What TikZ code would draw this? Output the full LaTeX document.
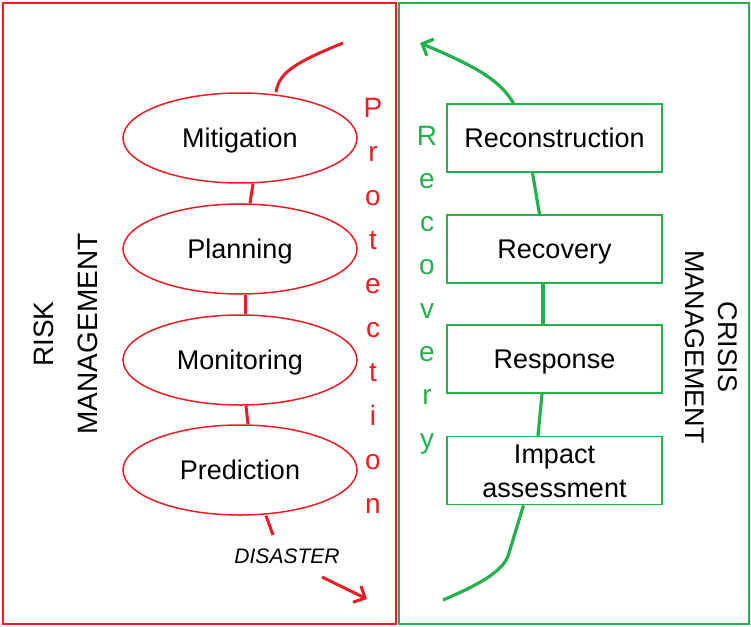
\documentclass[tikz,border=0pt]{standalone}
\usepackage{fontspec}
\setmainfont{Liberation Sans}
\usepackage{tikz}
\usetikzlibrary{arrows.meta,shapes.geometric}
\definecolor{riskred}{RGB}{237,28,36}
\definecolor{crisisgreen}{RGB}{34,177,76}

\begin{document}
\begin{tikzpicture}[x=1pt,y=-1pt,
  phase/.style={ellipse,draw=riskred,line width=1.5pt,minimum width=234pt,minimum height=90pt,inner sep=0pt,text height=19pt,text depth=0pt,font=\fontsize{27}{30}\selectfont},
  stage/.style={rectangle,draw=crisisgreen,line width=1.5pt,minimum width=215pt,minimum height=68pt,inner sep=0pt,align=center,text height=19pt,text depth=0pt,font=\fontsize{27}{34}\selectfont},
  redlink/.style={riskred,line width=3pt},
  greenlink/.style={crisisgreen,line width=3.2pt},
  letter/.style={anchor=base,font=\fontsize{28}{30}\selectfont},
  barb/.style={-{Straight Barb[length=9pt,width=18pt]}}]
  \useasboundingbox (0,0) rectangle (751,626);
  \draw[riskred,line width=1.5pt] (3,3) rectangle (396,624);
  \draw[crisisgreen,line width=1.5pt] (399,3) rectangle (749,624);

  \node[phase] (mit) at (240,138) {Mitigation};
  \node[phase] (pla) at (240,249) {Planning};
  \node[phase] (mon) at (240,360) {Monitoring};
  \node[phase] (pre) at (240,470) {Prediction};
  \coordinate (protEnd) at (343,43);
  \coordinate (preStub) at (273,535);
  \coordinate (disStart) at (322,577);
  \coordinate (disEnd) at (367,599);
  \draw[redlink] ([xshift=36pt]mit.north) .. controls (279,74) and (291,64) .. (protEnd);
  \draw[redlink] ([xshift=13pt]mit.south) -- ([xshift=10pt]pla.north);
  \draw[redlink] ([xshift=5pt]pla.south) -- ([xshift=5pt]mon.north);
  \draw[redlink] ([xshift=6pt]mon.south) -- ([xshift=8pt]pre.north);
  \draw[redlink] ([xshift=26pt]pre.south) -- (preStub);
  \node[font=\fontsize{21}{24}\selectfont\itshape] (disaster) at (287,556) {DISASTER};
  \draw[redlink,barb] (disStart) -- (disEnd);
  \foreach \ch [count=\i from 0] in {P,r,o,t,e,c,t,i,o,n}
    \node[letter,riskred] (prot\i) at (373,117+44*\i) {\ch};
  \node[rotate=90,align=center,font=\fontsize{28}{44}\selectfont] (risk) at (66,334) {RISK\\MANAGEMENT};

  \node[stage] (rec) at (554.5,138) {Reconstruction};
  \node[stage] (recv) at (554.5,249) {Recovery};
  \node[stage] (resp) at (554.5,359) {Response};
  \node[stage,text height=53pt] (imp) at (554.5,470.5) {Impact\\assessment};
  \coordinate (recStart) at (443,600);
  \coordinate (recEnd) at (420,43);
  \draw[greenlink] (recStart) .. controls (478,585) and (502,572) .. (508,556)
    .. controls (513,540) and (519,520) .. ([xshift=-31pt]imp.south);
  \draw[greenlink] ([xshift=-12.5pt]resp.south) -- ([xshift=-16.5pt]imp.north);
  \draw[greenlink] ([xshift=-11.5pt]recv.south) -- ([xshift=-11.5pt]resp.north);
  \draw[greenlink] ([xshift=-22pt]rec.south) -- ([xshift=-15pt]recv.north);
  \draw[greenlink,barb] ([xshift=-41pt]rec.north) .. controls (500,80) and (475,66) .. (recEnd);
  \foreach \ch [count=\i from 0] in {R,e,c,o,v,e,r,y}
    \node[letter,crisisgreen] (reco\i) at (427,145+43.3*\i) {\ch};
  \node[rotate=-90,align=center,font=\fontsize{27}{33}\selectfont] (crisis) at (711,347) {CRISIS\\MANAGEMENT};
\end{tikzpicture}
\end{document}
